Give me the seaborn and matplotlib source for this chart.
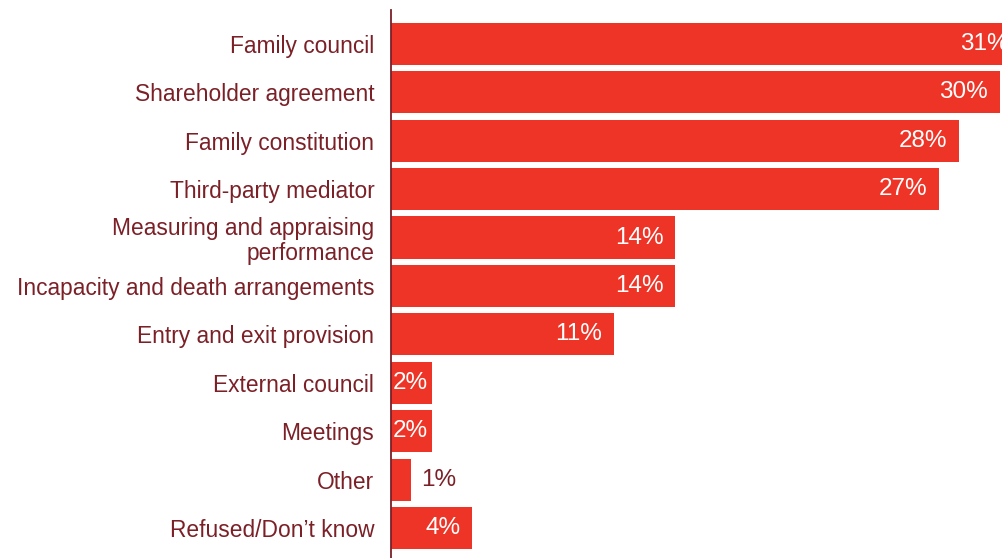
import matplotlib
matplotlib.use("Agg")
import matplotlib.pyplot as plt
import seaborn as sns
import pandas as pd

categories = [
    "Family council",
    "Shareholder agreement",
    "Family constitution",
    "Third-party mediator",
    "Measuring and appraising\nperformance",
    "Incapacity and death arrangements",
    "Entry and exit provision",
    "External council",
    "Meetings",
    "Other",
    "Refused/Don\u2019t know",
]
values = [31, 30, 28, 27, 14, 14, 11, 2, 2, 1, 4]
value_labels = ["31%", "30%", "28%", "27%", "14%", "14%", "11%", "2%", "2%", "1%", "4%"]

BAR = "#EE3426"
TEXT = "#7B2027"
LABEL_SIZE = 16.4
VALUE_SIZE = 17.5

sns.set_theme(style="white")
plt.rcParams["font.family"] = ["Liberation Sans", "DejaVu Sans"]

df = pd.DataFrame({"category": categories, "value": values})

fig = plt.figure(figsize=(10.03, 5.58), dpi=100)
ax = fig.add_axes([391 / 1003, 0.0, 1 - 391 / 1003, 1 - 10 / 558])

sns.barplot(data=df, x="value", y="category", orient="h", color=BAR,
            saturation=1, width=0.87, ax=ax, edgecolor="none")

ax.set_xlim(0, 30.15)
ax.set_ylim(10.62, -0.70)

for i, (v, lab) in enumerate(zip(values, value_labels)):
    if v < 2:
        ax.annotate(lab, (v, i), xytext=(7, 0), textcoords="offset points",
                    ha="left", va="center", color=TEXT, fontsize=VALUE_SIZE)
    elif v < 3:
        ax.annotate(lab, (0, i), xytext=(1.2, 0), textcoords="offset points",
                    ha="left", va="center", color="white", fontsize=VALUE_SIZE)
    else:
        ax.annotate(lab, (v, i), xytext=(-8.5, 0), textcoords="offset points",
                    ha="right", va="center", color="white", fontsize=VALUE_SIZE,
                    annotation_clip=False, clip_on=True)

ax.set_xlabel("")
ax.set_ylabel("")
ax.set_xticks([])
ax.tick_params(axis="y", length=0, pad=12, labelsize=LABEL_SIZE, labelcolor=TEXT)
for lbl in ax.get_yticklabels():
    lbl.set_linespacing(1.1)

for side in ["top", "right", "bottom"]:
    ax.spines[side].set_visible(False)
ax.spines["left"].set_color(TEXT)
ax.spines["left"].set_linewidth(1.3)

fig.savefig("out.png", dpi=100)
